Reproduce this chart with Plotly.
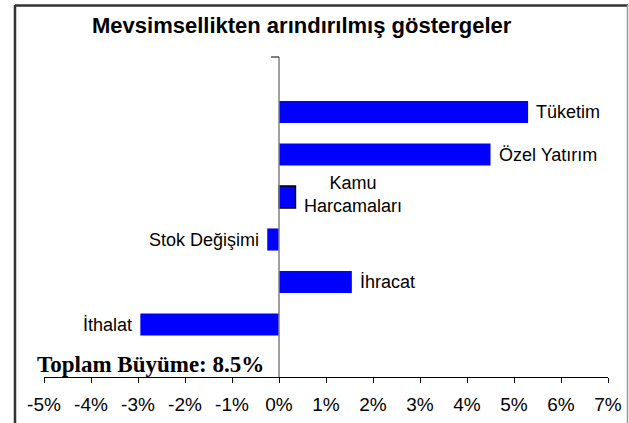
import plotly.graph_objects as go

categories = ["Tüketim", "Özel Yatırım", "Kamu Harcamaları", "Stok Değişimi", "İhracat", "İthalat"]
values = [5.3, 4.5, 0.35, -0.25, 1.55, -2.95]
label_texts = ["Tüketim", "Özel Yatırım", "Kamu<br>Harcamaları", "Stok Değişimi", "İhracat", "İthalat"]
tick_vals = list(range(-5, 8))
tick_text = [f"{v}%" for v in tick_vals]
title_text = "Mevsimsellikten arındırılmış göstergeler"
total_text = "Toplam Büyüme: 8.5%"

W, H = 629, 423
L, R, T, B = 44, 21, 57, 46

fig = go.Figure()
fig.add_trace(go.Bar(
    y=categories, x=values, orientation="h",
    marker=dict(color="#0000FF",
                line=dict(color="black", width=[0, 0, 1.5, 0, 0, 0])),
    width=0.52, hoverinfo="skip",
))

LABEL_FONT = dict(family="Arial", size=18, color="black")
ann = []
for cat, v, t in zip(categories, values, label_texts):
    if cat == "Kamu Harcamaları":
        ann.append(dict(x=v, y=cat, xref="x", yref="y", text=t, showarrow=False,
                        xanchor="left", yanchor="middle", xshift=7, yshift=3, align="center",
                        font=LABEL_FONT))
    elif v >= 0:
        ann.append(dict(x=v, y=cat, xref="x", yref="y", text=t, showarrow=False,
                        xanchor="left", yanchor="middle", xshift=6,
                        font=LABEL_FONT))
    else:
        ann.append(dict(x=v, y=cat, xref="x", yref="y", text=t, showarrow=False,
                        xanchor="right", yanchor="middle", xshift=-6,
                        font=LABEL_FONT))

pw = W - L - R
ph = H - T - B
def px(xp):
    return (xp - L) / pw
def py(yp):
    return (H - B - yp) / ph

ann.append(dict(x=px(35), y=py(364), xref="paper", yref="paper",
                text=f"<b>{total_text}</b>", showarrow=False, xanchor="left", yanchor="middle",
                font=dict(family="Liberation Serif", size=23, color="black")))
ann.append(dict(x=px(302), y=py(26), xref="paper", yref="paper",
                text=f"<b>{title_text}</b>", showarrow=False, xanchor="center", yanchor="middle",
                font=dict(family="Arial", size=22, color="black")))

shapes = [
    dict(type="line", xref="paper", yref="paper", x0=px(15), x1=px(15), y0=py(5), y1=py(430),
         line=dict(color="#333333", width=2.5)),
    dict(type="line", xref="paper", yref="paper", x0=px(15), x1=px(628), y0=py(5.5), y1=py(5.5),
         line=dict(color="#333333", width=2.5)),
    dict(type="line", xref="paper", yref="paper", x0=px(627.5), x1=px(627.5), y0=py(5), y1=py(430),
         line=dict(color="#999999", width=1.5)),
    dict(type="line", xref="x", yref="paper", x0=0, x1=0, y0=0, y1=1,
         line=dict(color="#808080", width=1.5)),
    dict(type="line", xref="paper", yref="paper", x0=px(271), x1=px(279), y0=1, y1=1,
         line=dict(color="black", width=1)),
]

fig.update_layout(
    width=W, height=H,
    autosize=False,
    margin=dict(l=L, r=R, t=T, b=B),
    paper_bgcolor="white", plot_bgcolor="white",
    showlegend=False,
    annotations=ann, shapes=shapes,
)
fig.update_xaxes(range=[-5, 7], tickvals=tick_vals, ticktext=tick_text,
                 showgrid=False, zeroline=False, showline=True, linecolor="black", linewidth=1,
                 ticks="outside", ticklen=5, tickcolor="black", automargin=False,
                 ticklabelstandoff=5,
                 tickfont=dict(family="Arial", size=19, color="black"))
fig.update_yaxes(categoryorder="array", categoryarray=categories,
                 range=[6.235, -1.294], showticklabels=False, showgrid=False,
                 zeroline=False, showline=False, ticks="", automargin=False)

post = ("document.documentElement.style.overflow='hidden';"
        "document.body.style.overflow='hidden';"
        "document.body.style.margin='0';document.body.style.padding='0';"
        "var gd=document.getElementById('{plot_id}');"
        "Plotly.relayout(gd,{width:629,height:423});")
fig.write_html("out.html", config={"displayModeBar": False, "responsive": False},
               post_script=post)
